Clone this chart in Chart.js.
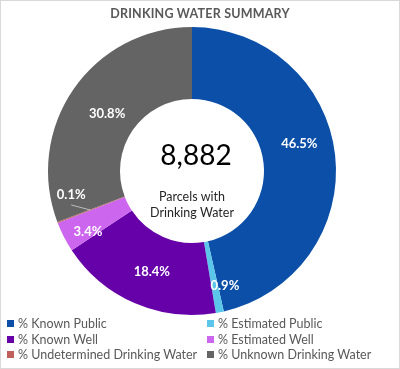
<!DOCTYPE html>
<html><head><meta charset="utf-8">
<script src="https://cdn.jsdelivr.net/npm/chart.js@4"></script>
<style>
html,body{margin:0;padding:0;background:#fff;}
#wrap{position:relative;width:400px;height:369px;overflow:hidden;font-family:Lato,"Open Sans",sans-serif;}
#c{position:absolute;left:0;top:0;}
#frame{position:absolute;left:0;top:0;width:398px;height:367px;border:1px solid #d9d9d9;pointer-events:none;}
#title{position:absolute;left:0;width:400px;top:6px;text-align:center;font-weight:bold;font-size:12.5px;color:#595959;letter-spacing:0.2px;}
.lg{position:absolute;font-size:12.5px;color:#595959;white-space:nowrap;line-height:14px;}
.lg i{display:inline-block;width:7px;height:7px;margin-right:4px;vertical-align:1px;}
</style></head>
<body>
<div id="wrap">
<canvas id="c" width="400" height="369"></canvas>
<div id="title">DRINKING WATER SUMMARY</div>
<div id="legend"></div>
<div id="frame"></div>
</div>
<script>
const categories = ['% Known Public','% Estimated Public','% Known Well','% Estimated Well','% Undetermined Drinking Water','% Unknown Drinking Water'];
const shares = [46.5, 0.9, 18.4, 3.4, 0.1, 30.8];
const sliceColors = ['#0B4FA8','#5CC6EA','#6600A8','#CC66EE','#C0605C','#646464'];
const totalParcels = '8,882';
const centerCaption = ['Parcels with','Drinking Water'];
// small label nudges (px) to mimic the original label placement
const labelNudge = [[0,-15],[12,9],[3,2],[-8,11],[0,1],[4,4]];

// HTML legend, two columns
const legend = document.getElementById('legend');
categories.forEach((name,i)=>{
  const d=document.createElement('div');
  d.className='lg';
  d.style.left=(i%2===0?7:207)+'px';
  d.style.top=(317+Math.floor(i/2)*15.5)+'px';
  d.innerHTML='<i style="background:'+sliceColors[i]+'"></i>'+name;
  legend.appendChild(d);
});

const centerText = {
  id:'centerText',
  afterDatasetsDraw(chart){
    const meta=chart.getDatasetMeta(0);
    const a=meta.data[0]; if(!a) return;
    const {x,y}=a.getProps(['x','y'],true);
    const ctx=chart.ctx; ctx.save();
    ctx.textAlign='center'; ctx.textBaseline='middle';
    ctx.fillStyle='#000';
    ctx.font='28px Lato, "Open Sans", sans-serif';
    ctx.fillText(totalParcels,x+4,y-15);
    ctx.fillStyle='#262626';
    ctx.font='12.5px Lato, "Open Sans", sans-serif';
    ctx.fillText(centerCaption[0],x,y+26);
    ctx.fillText(centerCaption[1],x,y+42);
    ctx.restore();
  }
};

const sliceLabels = {
  id:'sliceLabels',
  afterDatasetsDraw(chart){
    const meta=chart.getDatasetMeta(0);
    const ctx=chart.ctx; ctx.save();
    ctx.font='bold 13px Lato, "Open Sans", sans-serif';
    ctx.textAlign='center'; ctx.textBaseline='middle';
    meta.data.forEach((arc,i)=>{
      const p=arc.getProps(['x','y','startAngle','endAngle','innerRadius','outerRadius'],true);
      const mid=(p.startAngle+p.endAngle)/2;
      const r=(p.innerRadius+p.outerRadius)/2;
      const txt=shares[i].toFixed(1)+'%';
      let lx=p.x+Math.cos(mid)*r, ly=p.y+Math.sin(mid)*r;
      if(shares[i]<0.5){
        const ax=p.x+Math.cos(mid)*(r+1), ay=p.y+Math.sin(mid)*(r+1);
        const ex=ax-19, ey=ay-5;
        ctx.strokeStyle='rgba(255,255,255,0.7)'; ctx.lineWidth=0.8;
        ctx.beginPath(); ctx.moveTo(ax,ay); ctx.lineTo(ex,ey); ctx.stroke();
        lx=ex; ly=ey-11;
      }
      lx+=labelNudge[i][0]; ly+=labelNudge[i][1];
      ctx.fillStyle='#ffffff';
      ctx.fillText(txt,lx,ly);
    });
    ctx.restore();
  }
};

new Chart(document.getElementById('c'),{
  type:'doughnut',
  data:{labels:categories,datasets:[{data:shares,backgroundColor:sliceColors,borderWidth:0,hoverOffset:0}]},
  options:{
    responsive:false,animation:false,cutout:'50%',rotation:0,circumference:360,
    layout:{padding:{left:48,right:64,top:27,bottom:54}},
    plugins:{legend:{display:false},title:{display:false},tooltip:{enabled:false}}
  },
  plugins:[centerText,sliceLabels]
});
</script>
</body></html>
